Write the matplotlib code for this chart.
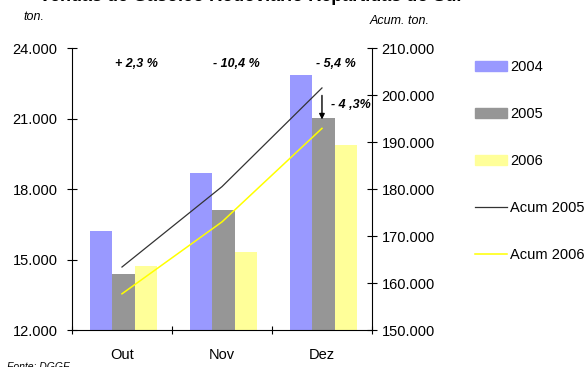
import matplotlib.pyplot as plt
import matplotlib.patches as mpatches
import matplotlib.lines as mlines
import numpy as np

plt.rcParams['font.family'] = ['Liberation Sans', 'DejaVu Sans']

# Monthly tonnage (left axis) and cumulative tonnage (right axis)
meses = ['Out', 'Nov', 'Dez']
v2004 = [16200, 18680, 22850]
v2005 = [14400, 17110, 21020]
v2006 = [14730, 15330, 19880]
acum2005 = [163400, 180500, 201500]
acum2006 = [157700, 173000, 192900]
variacoes = ['+ 2,3 %', '- 10,4 %', '- 5,4 %']
var_acum = '- 4 ,3%'

fig = plt.figure(figsize=(5.88, 3.67), dpi=100)
ax = fig.add_axes([0.1224, 0.1008, 0.5102, 0.7684])
ax2 = ax.twinx()

x = np.arange(len(meses))
w = 0.225
ax.bar(x - w + 0.015, v2004, w, color='#9999ff', zorder=2)
ax.bar(x + 0.015, v2005, w, color='#969696', zorder=2)
ax.bar(x + w + 0.015, v2006, w, color='#ffff99', zorder=2)

ax2.plot(x, acum2005, color='#333333', lw=0.9)
ax2.plot(x, acum2006, color='#ffff00', lw=1.1)

ax.set_xlim(-0.5, 2.5)
ax.set_ylim(12000, 24000)
ax2.set_ylim(150000, 210000)

fmt = lambda v, p: f'{v:,.0f}'.replace(',', '.')
ax.set_yticks(np.arange(12000, 24001, 3000))
ax.yaxis.set_major_formatter(plt.FuncFormatter(fmt))
ax2.set_yticks(np.arange(150000, 210001, 10000))
ax2.yaxis.set_major_formatter(plt.FuncFormatter(fmt))

ax.set_xticks([-0.5, 0.5, 1.5, 2.5])
ax.set_xticklabels([])
ax.set_xticks(x, minor=True)
ax.set_xticklabels(meses, minor=True)
ax.tick_params(axis='x', which='minor', length=0, labelsize=10.5, pad=13)
ax.tick_params(axis='x', which='major', direction='inout', length=6)
ax.tick_params(axis='y', direction='inout', length=7, labelsize=10.5, pad=7)
ax2.tick_params(axis='y', direction='inout', length=7, labelsize=10.5)

for a in (ax, ax2):
    a.spines['top'].set_visible(False)
ax.spines['right'].set_visible(False)
ax2.spines['left'].set_visible(False)
ax2.spines['bottom'].set_visible(False)

# Year-on-year change 2006 vs 2005
for i, t in enumerate(variacoes):
    ax.text(i + 0.14, 23300, t, ha='center', va='center', fontsize=9,
            fontweight='bold', fontstyle='italic')

ax2.annotate('', xy=(2.0, acum2005[2] - 7300), xytext=(2.0, acum2005[2] - 1000),
             arrowprops=dict(arrowstyle='-|>', color='black', lw=1.0,
                             mutation_scale=8))
ax2.text(2.09, acum2005[2] - 3600, var_acum, ha='left', va='center',
         fontsize=9, fontweight='bold', fontstyle='italic')

fig.text(0.040, 0.953, 'ton.', fontsize=9, fontstyle='italic', va='center')
fig.text(0.628, 0.942, 'Acum. ton.', fontsize=9, fontstyle='italic', va='center')
fig.text(0.012, 0.0, 'Fonte: DGGE', fontsize=7.5, fontstyle='italic', va='center')
fig.text(0.425, 1 - 1.0 / 367, 'Vendas de Gasóleo Rodoviário Repartidas do Sul',
         fontsize=13, fontweight='bold', ha='center', va='baseline')

handles = [
    mpatches.Patch(color='#9999ff', label='2004'),
    mpatches.Patch(color='#969696', label='2005'),
    mpatches.Patch(color='#ffff99', label='2006'),
    mlines.Line2D([], [], color='#333333', lw=0.9, label='Acum 2005'),
    mlines.Line2D([], [], color='#ffff00', lw=1.1, label='Acum 2006'),
]
fig.legend(handles=handles, loc='upper left', bbox_to_anchor=(0.798, 0.853),
           frameon=False, fontsize=10.5, handlelength=2.2, handleheight=0.7,
           handletextpad=0.2, labelspacing=2.27, borderaxespad=0)

fig.savefig('out.png', dpi=100)
